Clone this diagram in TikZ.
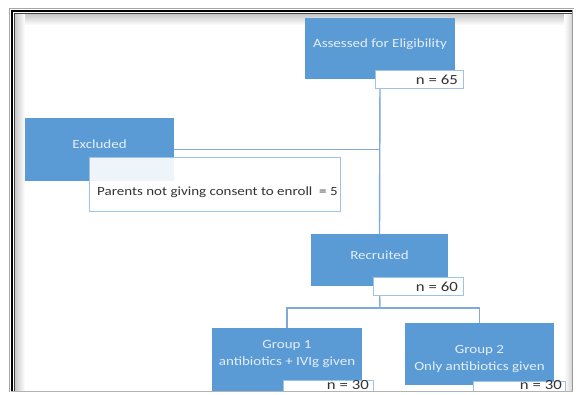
\documentclass[tikz,border=0pt]{standalone}
\usepackage{fontspec}
\setmainfont[FakeStretch=1.2]{Carlito}
\definecolor{boxblue}{HTML}{5B9BD5}
\definecolor{lineblue}{HTML}{7FAADB}
\definecolor{nborder}{HTML}{9DC3E6}
\definecolor{btext}{HTML}{E4EEF9}
\definecolor{dtext}{HTML}{333333}
\tikzset{
  bluebox/.style={rectangle, fill=boxblue, draw=none, inner sep=0pt},
  bluetext/.style={text=btext, font=\fontsize{12.5}{17}\selectfont, align=center, inner sep=0pt},
  nbox/.style={rectangle, fill=white, draw=nborder, line width=0.9pt, inner sep=0pt, minimum height=18pt},
  ntext/.style={text=dtext, font=\fontsize{14}{15}\selectfont, anchor=east, inner sep=0pt},
  conn/.style={draw=lineblue, line width=1.4pt},
}
\begin{document}
\begin{tikzpicture}[x=1pt,y=-1pt]
\useasboundingbox (0,0) rectangle (577,394);
\fill[white] (0,0) rectangle (577,394);
% frame shading
\shade[top color=gray!45, bottom color=white] (14.5,14) rectangle (571,25);
\shade[left color=gray!45, right color=white] (14.5,14) rectangle (25,391);
\shade[left color=white, right color=gray!30] (564,14) rectangle (571.5,391);
\begin{scope}
\clip (14.5,14.5) rectangle (571.5,391);
% box positions (drawn first for connector anchoring)
\node[bluebox, minimum width=150pt, minimum height=61pt] (assessed) at (380,48.5) {};
\node[bluebox, minimum width=149pt, minimum height=63pt] (excluded) at (99.5,149.5) {};
\node[bluebox, minimum width=137pt, minimum height=52pt] (recruited) at (379.5,260) {};
\node[bluebox, minimum width=150pt, minimum height=72pt] (g1) at (287,364) {};
\node[bluebox, minimum width=149pt, minimum height=62pt] (g2) at (479.5,354) {};
\coordinate (split) at (380,308);
% connectors
\draw[conn] (assessed.south) -- (recruited.north);
\draw[conn] (excluded.east) -- (excluded.east -| assessed.south);
\draw[conn] (recruited.south) -- (split);
\draw[conn] (g1.north) |- (split) -| (g2.north);
% redraw boxes on top
\node[bluebox, minimum width=150pt, minimum height=61pt] at (assessed) {};
\node[bluebox, minimum width=149pt, minimum height=63pt] at (excluded) {};
\node[bluebox, minimum width=137pt, minimum height=52pt] at (recruited) {};
\node[bluebox, minimum width=150pt, minimum height=72pt] at (g1) {};
\node[bluebox, minimum width=149pt, minimum height=62pt] at (g2) {};
% texts in blue boxes
\node[bluetext] (assessedt) at (380,44.5) {Assessed for Eligibility};
\node[bluetext] (excludedt) at (99.5,144.5) {Excluded};
\node[bluetext] (recruitedt) at (379.5,255.5) {Recruited};
\node[bluetext] (g1t) at (287,354.5) {Group 1\\antibiotics + IVIg given};
\node[bluetext] (g2t) at (479.5,359) {Group 2\\Only antibiotics given};
% parents box
\node[rectangle, fill=white, fill opacity=0.9, draw=nborder, line width=0.9pt, minimum width=251pt, minimum height=54pt, inner sep=0pt] (parents) at (214.5,184) {};
\node[text=dtext, font=\fontsize{12.5}{14}\selectfont, anchor=west, inner sep=0pt] (parentst) at (97,192.5) {Parents not giving consent to enroll~~= 5};
% n boxes
\node[nbox, minimum width=88pt] (n65) at (419,79) {};
\node[ntext] (n65t) at (458,79.5) {n = 65};
\node[nbox, minimum width=90pt] (n60) at (418,286) {};
\node[ntext] (n60t) at (458,286.5) {n = 60};
\node[nbox, minimum width=90pt] (n30a) at (328,389) {};
\node[ntext] (n30at) at (369,385) {n = 30};
\node[nbox, minimum width=92pt] (n30b) at (519,390) {};
\node[ntext] (n30bt) at (562,385) {n = 30};
\end{scope}
% frame lines
\draw[gray!70, line width=0.8pt] (9.5,392) -- (9.5,8.8) -- (574,8.8);
\draw[black, line width=2pt] (11.5,392) -- (11.5,10.8) -- (573,10.8);
\draw[black!75, line width=0.9pt] (14,392) -- (14,13.6) -- (572,13.6);
\draw[gray!80, line width=1pt] (572,10) -- (572,392);
\draw[gray!60, line width=1pt] (11,391.8) -- (572.5,391.8);
\end{tikzpicture}
\end{document}
